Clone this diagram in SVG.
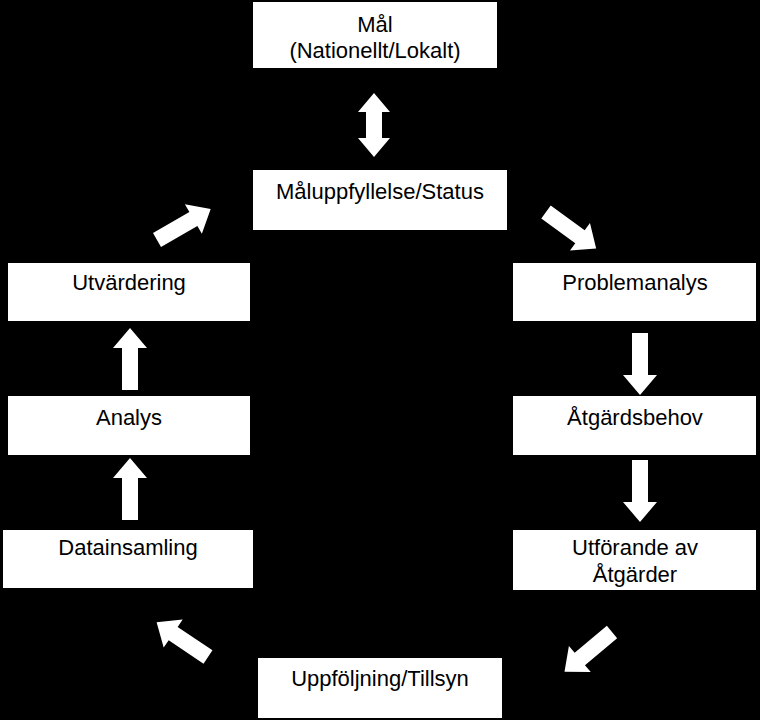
<svg xmlns="http://www.w3.org/2000/svg" xmlns:xlink="http://www.w3.org/1999/xlink" width="760" height="720" viewBox="0 0 760 720">
<style>
.box{fill:#fff}
.t{font-family:"Liberation Sans",Arial,sans-serif;font-size:22px;fill:#000;text-anchor:middle}
.a{fill:#fff}
</style>
<defs>
<polygon id="arr" points="0,-8 42,-8 42,-17 62,0 42,17 42,8 0,8"/>
</defs>
<rect width="760" height="720" fill="#000"/>
<g id="n-mal"><rect class="box" x="253" y="2" width="244" height="66"/><text class="t" x="375" y="32">Mål</text><text class="t" x="375" y="58">(Nationellt/Lokalt)</text></g>
<g id="n-status"><rect class="box" x="253" y="170" width="254" height="60"/><text class="t" x="380" y="199">Måluppfyllelse/Status</text></g>
<g id="n-utv"><rect class="box" x="8" y="263" width="242" height="58"/><text class="t" x="129" y="290">Utvärdering</text></g>
<g id="n-analys"><rect class="box" x="8" y="396" width="242" height="59"/><text class="t" x="129" y="425">Analys</text></g>
<g id="n-data"><rect class="box" x="3" y="530" width="250" height="58"/><text class="t" x="128" y="555">Datainsamling</text></g>
<g id="n-prob"><rect class="box" x="513" y="263" width="243" height="58"/><text class="t" x="635" y="290">Problemanalys</text></g>
<g id="n-atg"><rect class="box" x="513" y="396" width="243" height="59"/><text class="t" x="635" y="425">Åtgärdsbehov</text></g>
<g id="n-utf"><rect class="box" x="513" y="530" width="243" height="60"/><text class="t" x="635" y="555">Utförande av</text><text class="t" x="635" y="582">Åtgärder</text></g>
<g id="n-upp"><rect class="box" x="258" y="658" width="244" height="60"/><text class="t" x="380" y="686">Uppföljning/Tillsyn</text></g>
<g id="connectors">
<polygon class="a" points="374,93 390,112 382,112 382,138 390,138 374,157 358,138 366,138 366,112 358,112"/>
<use href="#arr" class="a" transform="translate(546,212) rotate(36)"/>
<use href="#arr" class="a" transform="translate(640,333) rotate(90)"/>
<use href="#arr" class="a" transform="translate(640,460) rotate(90)"/>
<use href="#arr" class="a" transform="translate(612,632) rotate(140)"/>
<use href="#arr" class="a" transform="translate(208,657) rotate(-146)"/>
<use href="#arr" class="a" transform="translate(130,520) rotate(-90)"/>
<use href="#arr" class="a" transform="translate(130,390) rotate(-90)"/>
<use href="#arr" class="a" transform="translate(157,240) rotate(-30)"/>
</g>
</svg>
